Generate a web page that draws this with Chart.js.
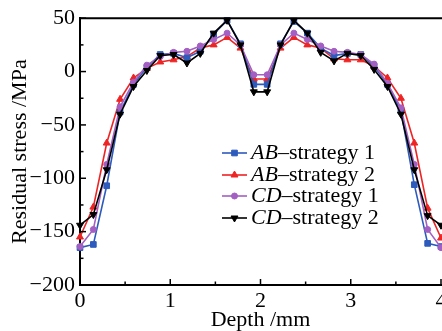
<!DOCTYPE html>
<html>
<head>
<meta charset="utf-8">
<script src="https://cdn.jsdelivr.net/npm/chart.js@4/dist/chart.umd.min.js"></script>
<style>
  body { margin: 0; overflow: hidden; background: #fff; }
  #wrap { position: absolute; left: 0; top: 0; width: 470px; height: 331px; }
</style>
</head>
<body>
<div id="wrap"><canvas id="chart" width="470" height="331"></canvas></div>
<script>
// Depth positions (mm), 28 evenly spaced measuring points
const depth = [0, 0.148, 0.296, 0.444, 0.593, 0.741, 0.889, 1.037, 1.185, 1.333, 1.481, 1.63, 1.778, 1.926,
               2.074, 2.222, 2.37, 2.519, 2.667, 2.815, 2.963, 3.111, 3.259, 3.407, 3.556, 3.704, 3.852, 4.0];

const abStrategy1 = [-165, -162, -107, -38, -12, 4, 16, 17, 13, 19, 35, 48, 26, -12,
                     -12, 26, 47, 36, 22, 15, 17, 16, 5, -12, -37, -106, -161, -164];
const abStrategy2 = [-155, -127, -67, -26, -6, 3, 9, 11, 14, 22, 25, 32, 22, -7,
                     -7, 22, 32, 25, 22, 12, 11, 11, 5, -6, -25, -67, -128, -156];
const cdStrategy1 = [-164, -148, -87, -33, -10, 6, 14, 18, 19, 24, 30, 36, 25, -3,
                     -3, 25, 36, 30, 24, 19, 18, 16, 7, -11, -34, -87, -148, -165];
const cdStrategy2 = [-144, -134, -92, -40, -14, 1, 15, 16, 8, 17, 36, 48, 25, -19,
                     -19, 25, 48, 36, 18, 10, 17, 15, 2, -14, -40, -92, -135, -144];

const xTicks = [0, 1, 2, 3, 4];
const yTicks = [-200, -150, -100, -50, 0, 50];

const seriesNames = [["AB", "\u2013strategy 1"], ["AB", "\u2013strategy 2"], ["CD", "\u2013strategy 1"], ["CD", "\u2013strategy 2"]];

const FONT = "'Liberation Serif', 'DejaVu Serif', serif";

function toPoints(values) {
    return values.map((v, i) => ({ x: depth[i], y: v }));
}

function makeSet(idx, values, color, style, radius, rotation, order) {
    return {
        label: seriesNames[idx].join(""),
        data: toPoints(values),
        borderColor: color,
        backgroundColor: color,
        borderWidth: 1.6,
        pointStyle: style,
        pointRadius: radius,
        pointRotation: rotation,
        pointBorderWidth: 1,
        tension: 0,
        clip: false,
        order: order
    };
}

const datasets = [
    makeSet(0, abStrategy1, "#2d5bbd", "rect", 4, 0, 2),
    makeSet(1, abStrategy2, "#ee2424", "triangle", 4, 0, 3),
    makeSet(2, cdStrategy1, "#a35fc2", "circle", 3, 0, 1),
    makeSet(3, cdStrategy2, "#000000", "triangle", 4, 180, 0)
];

// Inward ticks, top frame line and the in-plot legend
const framePlugin = {
    id: "frame",
    afterDraw(chart) {
        const ctx = chart.ctx;
        const area = chart.chartArea;
        const xs = chart.scales.x;
        const ys = chart.scales.y;
        ctx.save();
        ctx.strokeStyle = "#000";
        ctx.lineWidth = 2;
        ctx.beginPath();
        ctx.moveTo(area.left - 1, area.top);
        ctx.lineTo(chart.width, area.top);
        ctx.stroke();

        ctx.lineWidth = 1.5;
        for (let v = 0; v <= 4; v += 0.5) {
            const px = xs.getPixelForValue(v);
            const len = Number.isInteger(v) ? 6 : 3.5;
            ctx.beginPath();
            ctx.moveTo(px, area.bottom);
            ctx.lineTo(px, area.bottom - len);
            ctx.stroke();
        }
        for (let v = -200; v <= 50; v += 25) {
            const py = ys.getPixelForValue(v);
            const len = v % 50 === 0 ? 6 : 3.5;
            ctx.beginPath();
            ctx.moveTo(area.left, py);
            ctx.lineTo(area.left + len, py);
            ctx.stroke();
        }

        // legend
        const rows = [153, 175, 196, 218];
        datasets.forEach((ds, i) => {
            const y = rows[i];
            ctx.strokeStyle = ds.borderColor;
            ctx.fillStyle = ds.backgroundColor;
            ctx.lineWidth = 1.6;
            ctx.beginPath();
            ctx.moveTo(222, y);
            ctx.lineTo(247, y);
            ctx.stroke();
            ctx.lineWidth = 1;
            Chart.helpers.drawPoint(ctx, {
                pointStyle: ds.pointStyle,
                rotation: ds.pointRotation,
                radius: ds.pointRadius,
                borderWidth: 1
            }, 234.5, y);
            ctx.fillStyle = "#000";
            ctx.textBaseline = "middle";
            ctx.font = "italic 22px " + FONT;
            ctx.fillText(seriesNames[i][0], 251, y);
            const w = ctx.measureText(seriesNames[i][0]).width;
            ctx.font = "22px " + FONT;
            ctx.fillText(seriesNames[i][1], 251 + w, y);
        });
        ctx.restore();
    }
};

new Chart(document.getElementById("chart"), {
    type: "line",
    data: { datasets: datasets },
    options: {
        responsive: false,
        animation: false,
        layout: { padding: { top: 16, right: 29, bottom: 0, left: 0 } },
        plugins: { legend: { display: false }, tooltip: { enabled: false } },
        scales: {
            x: {
                type: "linear",
                min: 0,
                max: 4,
                afterBuildTicks: (scale) => { scale.ticks = xTicks.map(v => ({ value: v })); },
                afterFit: (scale) => { scale.height = 46; },
                grid: { display: false, drawTicks: false },
                border: { display: true, color: "#000", width: 2 },
                ticks: { color: "#000", padding: 3, font: { family: FONT, size: 22 } },
                title: {
                    display: true,
                    text: "Depth /mm",
                    color: "#000",
                    padding: { top: 0, bottom: 0 },
                    font: { family: FONT, size: 22, lineHeight: 1 }
                }
            },
            y: {
                min: -200,
                max: 50,
                afterBuildTicks: (scale) => { scale.ticks = yTicks.map(v => ({ value: v })); },
                afterFit: (scale) => { scale.width = 80; },
                grid: { display: false, drawTicks: false },
                border: { display: true, color: "#000", width: 2 },
                ticks: {
                    color: "#000",
                    padding: 5,
                    font: { family: FONT, size: 22 },
                    callback: (v) => String(v).replace("-", "\u2212")
                },
                title: {
                    display: true,
                    text: "Residual stress /MPa",
                    color: "#000",
                    padding: { top: 9, bottom: 0 },
                    font: { family: FONT, size: 22, lineHeight: 1 }
                }
            }
        }
    },
    plugins: [framePlugin]
});
</script>
</body>
</html>
